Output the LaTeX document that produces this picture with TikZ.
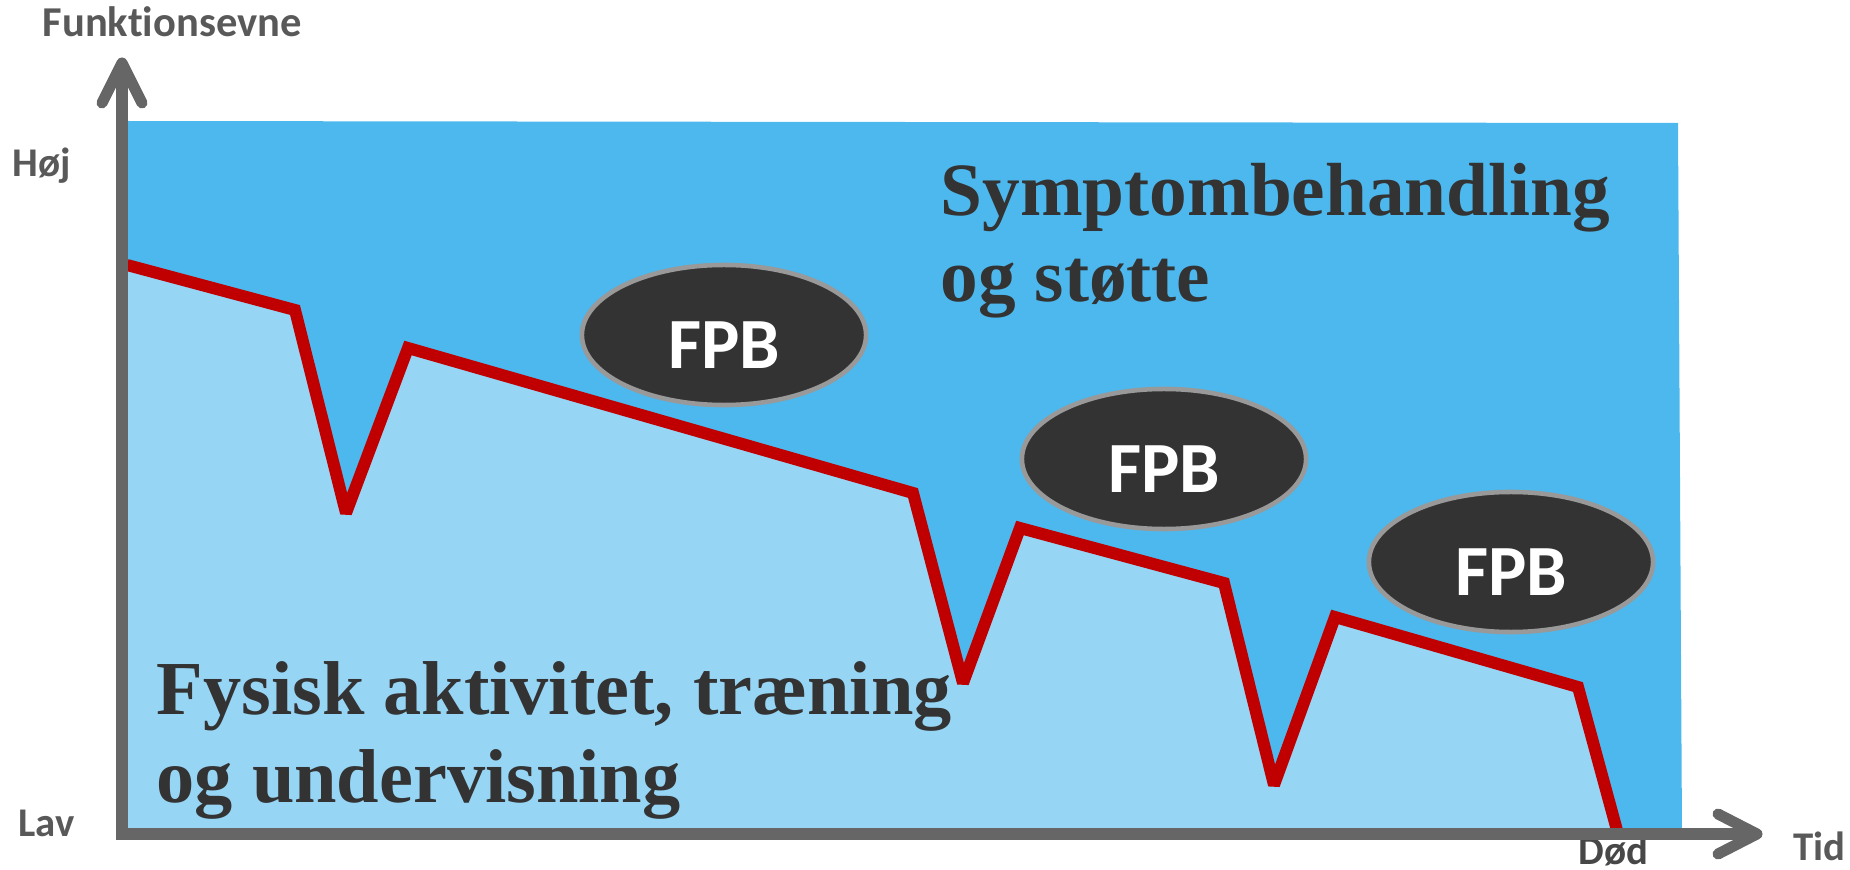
\documentclass[tikz,border=0pt]{standalone}
\usepackage{fontspec}
\setmainfont{Liberation Serif}
\newfontfamily\carlito[Ligatures=NoCommon]{Carlito}
\usetikzlibrary{shapes.geometric}
\definecolor{darkblue}{HTML}{4DB8ED}
\definecolor{lightblue}{HTML}{97D5F5}
\definecolor{redline}{HTML}{C00000}
\definecolor{axisgray}{HTML}{666666}
\definecolor{labelgray}{HTML}{595959}
\definecolor{textdark}{HTML}{333333}
\definecolor{ellfill}{HTML}{333333}
\definecolor{ellborder}{HTML}{999999}
\tikzset{
  axisline/.style={draw=axisgray, line width=3.13pt, line cap=round, line join=round},
  curve/.style={draw=redline, line width=3.41pt, line join=miter, miter limit=2},
  fpb/.style={ellipse, fill=ellfill, draw=ellborder, line width=1.3pt,
    minimum width=2.84cm, minimum height=1.40cm, inner sep=0pt,
    text=white, font=\carlito\bfseries\fontsize{20.5pt}{24pt}\selectfont,
    text height=0.66cm},
  axislabel/.style={anchor=base west, inner sep=0pt, text=labelgray,
    font=\carlito\bfseries\fontsize{11.6pt}{14pt}\selectfont},
  bigtext/.style={anchor=base west, inner sep=0pt, text=textdark,
    font=\bfseries\fontsize{21.7pt}{25pt}\selectfont},
  symtext/.style={bigtext, font=\bfseries\fontsize{21.4pt}{25pt}\selectfont},
}
\begin{document}
\begin{tikzpicture}[x=0.01cm, y=-0.01cm]
\useasboundingbox (0,0) rectangle (1850,870);
% background areas
\fill[darkblue] (127,121) -- (1678,123) -- (1682,834) -- (128,834) -- cycle;
\fill[lightblue] (127,265) -- (295,310) -- (346,513) -- (408,348) -- (913,493)
  -- (963,683) -- (1020,528) -- (1224,583) -- (1274,785) -- (1335,617)
  -- (1578,687) -- (1618,834) -- (128,834) -- cycle;
% red curve
\draw[curve] (127,265) -- (295,310) -- (346,513) -- (408,348) -- (913,493)
  -- (963,683) -- (1020,528) -- (1224,583) -- (1274,785) -- (1335,617)
  -- (1578,687) -- (1618,834);
% label under axis
\node[axislabel, text=textdark!90!white] (dod) at (1578,864) {Død};
% axes
\coordinate (origin) at (122,834);
\coordinate (ytip) at (122,63);
\coordinate (xtip) at (1757,834);
\draw[axisgray, line width=3.13pt, line join=miter] (xtip) -- (origin) -- (ytip);
\draw[axisline] (102,103) -- (ytip) -- (142,103);
\draw[axisline] (1718,814) -- (xtip) -- (1718,854);
% axis labels
\node[axislabel, font=\carlito\bfseries\fontsize{12.1pt}{14pt}\selectfont] (funk) at (42,37) {Funktionsevne};
\node[axislabel] (hoj) at (12,177) {Høj};
\node[axislabel] (lav) at (18,837) {Lav};
\node[axislabel] (tid) at (1793,860) {Tid};
% ellipses
\node[fpb] (e1) at (724,335) {FPB};
\node[fpb] (e2) at (1164,459) {FPB};
\node[fpb] (e3) at (1511,562) {FPB};
% big texts
\node[symtext] (sym1) at (940,216) {Symptombehandling};
\node[symtext] (sym2) at (940,302) {og støtte};
\node[bigtext] (fys1) at (156,715) {Fysisk aktivitet,\ træning};
\node[bigtext] (fys2) at (156,803) {og undervisning};
\end{tikzpicture}
\end{document}
